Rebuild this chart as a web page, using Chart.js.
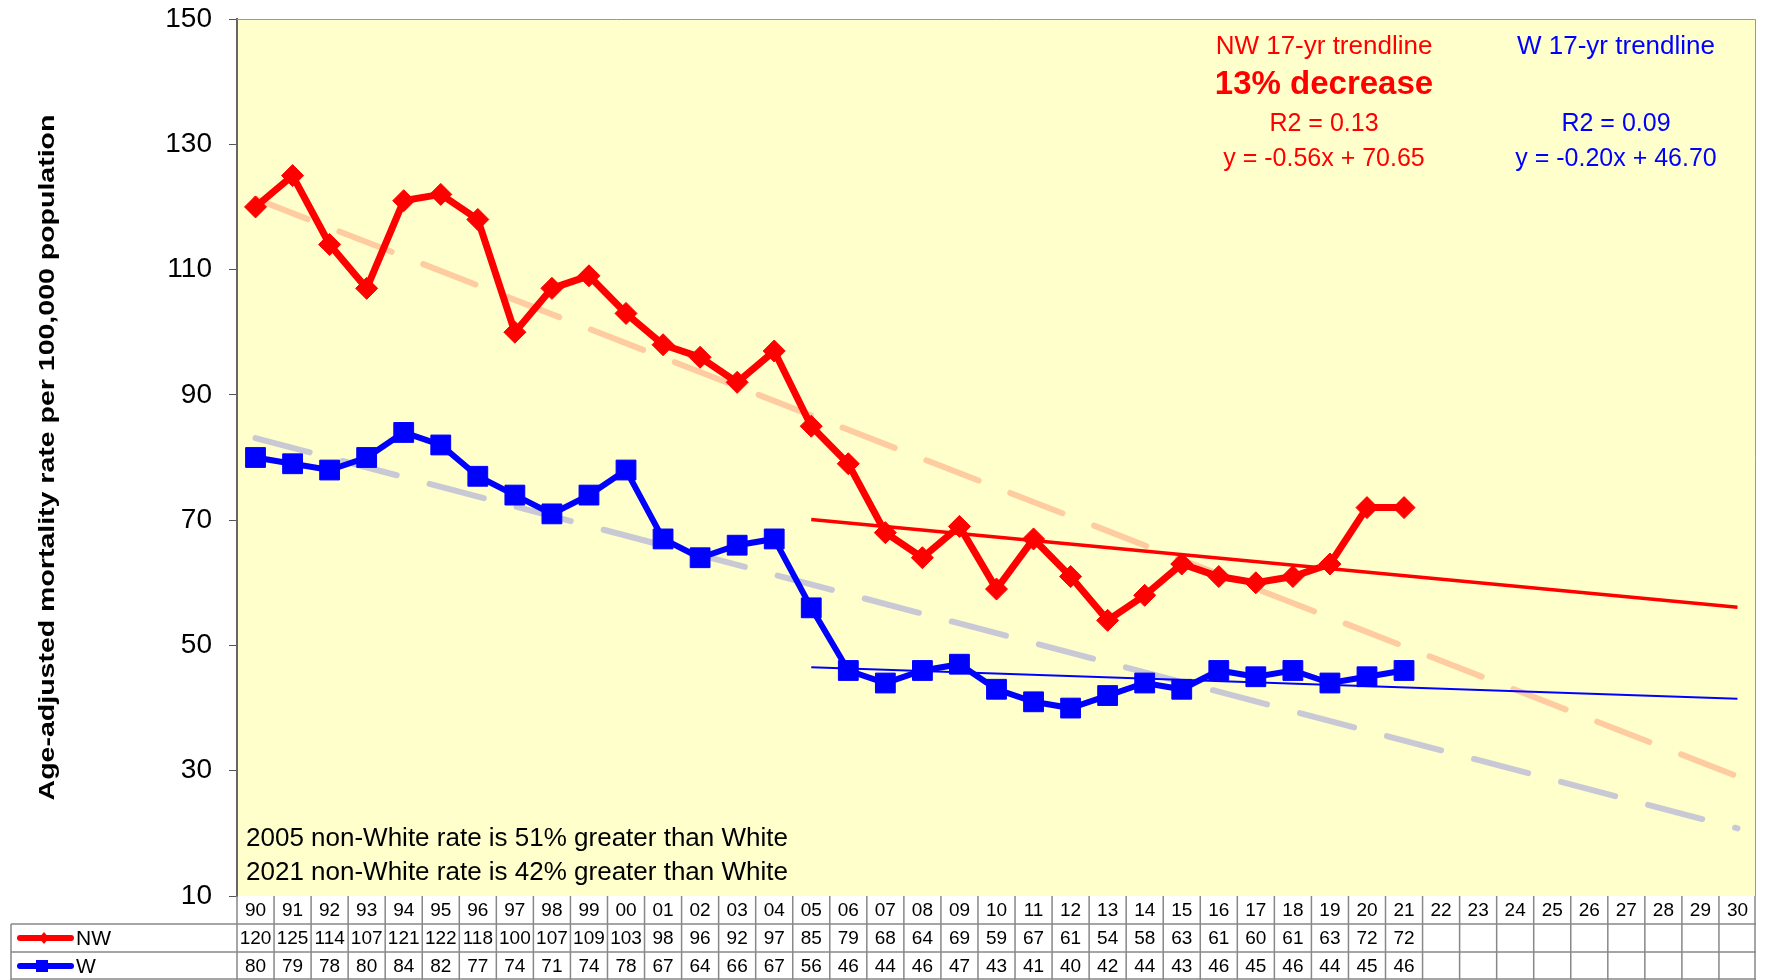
<!DOCTYPE html>
<html>
<head>
<meta charset="utf-8">
<script src="https://cdn.jsdelivr.net/npm/chart.js@4.4.1/dist/chart.umd.min.js"></script>
<style>
  html, body { margin: 0; padding: 0; background: #fff; }
</style>
</head>
<body>
<canvas id="myChart" width="1771" height="980"></canvas>
<script>
// years on the x axis (table header)
const years = ['90', '91', '92', '93', '94', '95', '96', '97', '98', '99', '00', '01', '02', '03', '04',
  '05', '06', '07', '08', '09', '10', '11', '12', '13', '14', '15', '16', '17', '18', '19', '20', '21',
  '22', '23', '24', '25', '26', '27', '28', '29', '30'];

// age-adjusted mortality rates, 1990-2021
const nwRates = [120, 125, 114, 107, 121, 122, 118, 100, 107, 109, 103, 98, 96, 92, 97,
  85, 79, 68, 64, 69, 59, 67, 61, 54, 58, 63, 61, 60, 61, 63, 72, 72];
const wRates = [80, 79, 78, 80, 84, 82, 77, 74, 71, 74, 78, 67, 64, 66, 67,
  56, 46, 44, 46, 47, 43, 41, 40, 42, 44, 43, 46, 45, 46, 44, 45, 46];

// trendline end values
const longTrendYears = ['90', '30'];
const nwLongTrend = [121.3, 29.1];
const wLongTrend = [83.1, 20.8];
const shortTrendYears = ['05', '30'];
const nwShortTrend = [70.1, 56.1];
const wShortTrend = [46.5, 41.5];

const nwNotes = ['NW 17-yr trendline', '13% decrease', 'R2 = 0.13', 'y = -0.56x + 70.65'];
const wNotes = ['W 17-yr trendline', '', 'R2 = 0.09', 'y = -0.20x + 46.70'];
const gapNotes = ['2005 non-White rate is 51% greater than White',
  '2021 non-White rate is 42% greater than White'];
const yTitle = 'Age-adjusted mortality rate per 100,000 population';

const pts = (xs, ys) => xs.map((x, i) => ({ x: x, y: ys[i] }));

const chartDeco = {
  id: 'chartDeco',
  beforeDraw(chart) {
    const { ctx, chartArea: a } = chart;
    ctx.save();
    ctx.fillStyle = '#FFFFCC';
    ctx.fillRect(a.left, a.top, a.right - a.left, a.bottom - a.top);
    ctx.restore();
  },
  afterDraw(chart) {
    const { ctx, chartArea: a } = chart;
    const xs = chart.scales.x;
    ctx.save();

    // plot border
    ctx.strokeStyle = '#999';
    ctx.lineWidth = 1;
    ctx.beginPath();
    ctx.moveTo(a.left, a.top + 0.5);
    ctx.lineTo(a.right - 0.5, a.top + 0.5);
    ctx.lineTo(a.right - 0.5, a.bottom);
    ctx.stroke();

    // y axis title
    ctx.save();
    ctx.translate(48, (a.top + a.bottom) / 2);
    ctx.rotate(-Math.PI / 2);
    ctx.scale(1, 0.8);
    ctx.fillStyle = '#000';
    ctx.font = 'bold 28.5px "Liberation Sans"';
    ctx.textAlign = 'center';
    ctx.textBaseline = 'middle';
    ctx.fillText(yTitle, 0, 0);
    ctx.restore();

    // data table
    const colW = (a.right - a.left) / years.length;
    const rowH = (chart.height - a.bottom) / 3;
    const top = a.bottom;
    const tableLeft = 11;
    ctx.strokeStyle = '#888';
    ctx.lineWidth = 1.5;
    ctx.beginPath();
    for (let r = 1; r <= 3; r++) {
      const y = top + r * rowH - (r === 3 ? 1 : 0);
      ctx.moveTo(tableLeft, y);
      ctx.lineTo(a.right, y);
    }
    ctx.moveTo(tableLeft, top + rowH);
    ctx.lineTo(tableLeft, chart.height);
    for (let i = 0; i <= years.length; i++) {
      const x = a.left + i * colW - (i === years.length ? 1 : 0);
      ctx.moveTo(x, top);
      ctx.lineTo(x, chart.height);
    }
    ctx.stroke();

    ctx.fillStyle = '#000';
    ctx.font = '19px "Liberation Sans"';
    ctx.textAlign = 'center';
    ctx.textBaseline = 'middle';
    years.forEach((yr, i) => {
      const cx = xs.getPixelForValue(i);
      ctx.fillText(yr, cx, top + rowH / 2 + 1);
      if (i < nwRates.length) ctx.fillText(String(nwRates[i]), cx, top + rowH * 1.5 + 1);
      if (i < wRates.length) ctx.fillText(String(wRates[i]), cx, top + rowH * 2.5 + 1);
    });

    // legend keys in the table
    const keys = [
      { label: 'NW', color: '#FF0000', y: top + rowH * 1.5, shape: 'diamond' },
      { label: 'W', color: '#0000FF', y: top + rowH * 2.5, shape: 'square' }
    ];
    keys.forEach(k => {
      ctx.strokeStyle = k.color;
      ctx.fillStyle = k.color;
      ctx.lineWidth = 6;
      ctx.lineCap = 'round';
      ctx.beginPath();
      ctx.moveTo(20, k.y);
      ctx.lineTo(71, k.y);
      ctx.stroke();
      ctx.beginPath();
      if (k.shape === 'diamond') {
        ctx.moveTo(44, k.y - 6); ctx.lineTo(49, k.y); ctx.lineTo(44, k.y + 6); ctx.lineTo(39, k.y);
      } else {
        ctx.rect(36, k.y - 6, 12, 12);
      }
      ctx.fill();
      ctx.fillStyle = '#000';
      ctx.font = '21px "Liberation Sans"';
      ctx.textAlign = 'left';
      ctx.fillText(k.label, 76, k.y + 1);
    });

    // trendline notes
    const noteY = [47, 85, 124, 159];
    const drawNotes = (lines, color, cx) => {
      ctx.fillStyle = color;
      ctx.textAlign = 'center';
      lines.forEach((t, i) => {
        if (!t) return;
        ctx.font = i === 1 ? 'bold 33px "Liberation Sans"' : (i === 0 ? '26px "Liberation Sans"' : '25px "Liberation Sans"');
        ctx.fillText(t, cx, noteY[i]);
      });
    };
    drawNotes(nwNotes, '#FF0000', 1324);
    drawNotes(wNotes, '#0000FF', 1616);

    // gap notes
    ctx.fillStyle = '#000';
    ctx.font = '26px "Liberation Sans"';
    ctx.textAlign = 'left';
    gapNotes.forEach((t, i) => ctx.fillText(t, 246, 839 + i * 34));

    ctx.restore();
  }
};

new Chart(document.getElementById('myChart'), {
  type: 'line',
  data: {
    labels: years,
    datasets: [
      {
        label: 'NW',
        data: nwRates,
        borderColor: '#FF0000',
        backgroundColor: '#FF0000',
        borderWidth: 7,
        pointStyle: 'rectRot',
        pointRadius: 11,
        pointBorderWidth: 1,
        tension: 0
      },
      {
        label: 'W',
        data: wRates,
        borderColor: '#0000FF',
        backgroundColor: '#0000FF',
        borderWidth: 6,
        pointStyle: 'rect',
        pointRadius: 14,
        pointBorderWidth: 1,
        tension: 0
      },
      {
        label: 'NW 17-yr trend',
        data: pts(shortTrendYears, nwShortTrend),
        borderColor: '#FF0000',
        borderWidth: 3.5,
        pointRadius: 0
      },
      {
        label: 'W 17-yr trend',
        data: pts(shortTrendYears, wShortTrend),
        borderColor: '#0000FF',
        borderWidth: 2,
        pointRadius: 0
      },
      {
        label: 'NW trend',
        data: pts(longTrendYears, nwLongTrend),
        borderColor: 'rgba(255, 190, 150, 0.8)',
        borderWidth: 6,
        borderDash: [56, 34],
        borderCapStyle: 'round',
        pointRadius: 0
      },
      {
        label: 'W trend',
        data: pts(longTrendYears, wLongTrend),
        borderColor: 'rgba(195, 195, 215, 0.9)',
        borderWidth: 6,
        borderDash: [56, 34],
        borderCapStyle: 'round',
        pointRadius: 0
      }
    ]
  },
  options: {
    responsive: false,
    animation: false,
    layout: { padding: { top: 19, right: 2, bottom: 84, left: 0 } },
    plugins: {
      legend: { display: false },
      tooltip: { enabled: false }
    },
    scales: {
      x: {
        type: 'category',
        display: false,
        offset: true
      },
      y: {
        min: 10,
        max: 150,
        afterFit: s => { s.width = 237; s.paddingTop = 0; s.paddingBottom = 0; },
        ticks: {
          stepSize: 20,
          color: '#000',
          padding: 17,
          font: { family: 'Liberation Sans', size: 28 }
        },
        grid: {
          drawOnChartArea: false,
          drawTicks: true,
          tickLength: 8,
          color: '#555'
        },
        border: { color: '#666', width: 2 }
      }
    }
  },
  plugins: [chartDeco]
});
</script>
</body>
</html>
